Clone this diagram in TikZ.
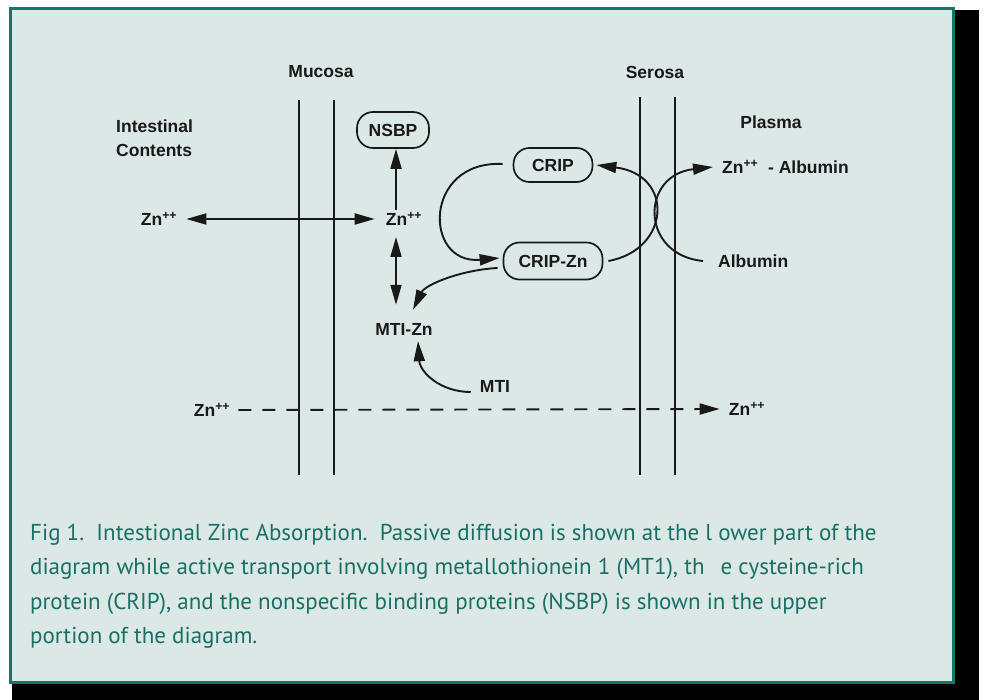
\documentclass[tikz,border=0pt]{standalone}
\usepackage{fontspec}
\setmainfont{Liberation Sans}
\newfontfamily\capfont{PT Sans}
\usetikzlibrary{arrows.meta}
\definecolor{panelfill}{HTML}{DCE8E6}
\definecolor{panelrule}{HTML}{17756A}
\definecolor{captext}{HTML}{187064}
\newcommand{\zincion}{Zn\textsuperscript{++}}
\begin{document}
\begin{tikzpicture}[x=1pt,y=-1pt,
  lbl/.style={font=\fontsize{17.5}{24}\selectfont\bfseries, inner sep=0pt, text=black!90},
  pill/.style={lbl, draw=black!90, line width=1.7pt, rounded corners=16pt, inner sep=0pt},
  tipshape/.style={-{Triangle[length=20pt,width=11pt]}},
  flow/.style={line width=1.9pt, draw=black!90, tipshape},
  dflow/.style={line width=1.9pt, draw=black!90,
    {Triangle[length=20pt,width=11pt]}-{Triangle[length=20pt,width=11pt]}},
  membrane/.style={line width=2.6pt, draw=black!90},
  diffuse/.style={flow, dash pattern=on 13pt off 11pt},
  capline/.style={font=\capfont\fontsize{23}{28}\selectfont, text=captext, inner sep=0pt, anchor=base west}
]
\useasboundingbox (0,0) rectangle (984,700);
% drop shadow and panel
\fill[black] (12,10) rectangle (979,700);
\draw[panelrule, line width=3pt, fill=panelfill] (10.5,8.5) rectangle (953.5,682.5);

% membranes
\draw[membrane] (299,100) -- (299,475);
\draw[membrane] (334,100) -- (334,475);
\draw[membrane] (640,97) -- (640,475);
\draw[membrane] (675,97) -- (675,475);

% region labels
\node[lbl] (muc) at (321,72) {Mucosa};
\node[lbl] (ser) at (655,72) {Serosa};
\node[lbl, align=left, anchor=west] (intc) at (116,138) {Intestinal\\Contents};
\node[lbl] (plasma) at (771,122) {Plasma};

% species
\node[pill, minimum width=72pt, minimum height=36pt] (nsbp) at (393,130) {NSBP};
\node[lbl] (zl) at (159,219) {\zincion};
\node[lbl] (zm) at (404,219) {\zincion};
\node[pill, minimum width=79pt, minimum height=34pt] (crip) at (553,165) {CRIP};
\node[pill, minimum width=99pt, minimum height=37pt] (cripzn) at (553,261) {CRIP-Zn};
\node[lbl, anchor=west] (zalb) at (722,167) {\zincion\ \ - Albumin};
\node[lbl, anchor=west] (alb) at (718,261) {Albumin};
\node[lbl] (mtizn) at (404,329) {MTI-Zn};
\node[lbl] (mti) at (495,386) {MTI};
\node[lbl] (zdl) at (212,410) {\zincion};
\node[lbl] (zdr) at (747,409) {\zincion};

% active transport
\draw[dflow] ([xshift=9pt]zl.east) -- ([xshift=-11pt]zm.west);
\draw[flow] ([shift={(-8pt,9pt)}]zm.center) -- ([xshift=3pt]nsbp.south);
\draw[dflow] ([shift={(-8pt,-18pt)}]zm.center) -- ([shift={(-8pt,18pt)}]mtizn.north);
\draw[flow] ([shift={(-10pt,1pt)}]crip.west) .. controls (423,160) and (423,265) .. ([shift={(-3pt,3pt)}]cripzn.west);
\draw[flow] ([shift={(-5pt,-7pt)}]cripzn.west) .. controls (460,270) and (425,285) .. ([shift={(9pt,13pt)}]mtizn.north);
\draw[flow] ([shift={(-9pt,-6pt)}]mti.west) .. controls (440,392) and (420,372) .. ([shift={(14pt,-6pt)}]mtizn.south);

% exchange across the serosa
\draw[flow] ([xshift=5pt]cripzn.east) .. controls (670,250) and (675,175) .. ([xshift=3pt]crip.east);
\draw[flow] ([xshift=-15pt]alb.west) .. controls (640,255) and (640,175) .. ([xshift=-9pt]zalb.west);

% passive diffusion
\draw[diffuse] ([xshift=8pt]zdl.east) -- ([xshift=-9pt]zdr.west);

% caption
\node[capline] (cap1) at (30,540) {Fig 1.\ \ Intestional Zinc Absorption.\ \ Passive diffusion is shown at the l ower part of the};
\node[capline] (cap2) at (30,574.5) {diagram while active transport involving metallothionein 1 (MT1), th\hspace{16pt}e cysteine-rich};
\node[capline] (cap3) at (30,609) {protein (CRIP), and the nonspecific binding proteins (NSBP) is shown in the upper};
\node[capline] (cap4) at (30,643.5) {portion of the diagram.};
\end{tikzpicture}
\end{document}
